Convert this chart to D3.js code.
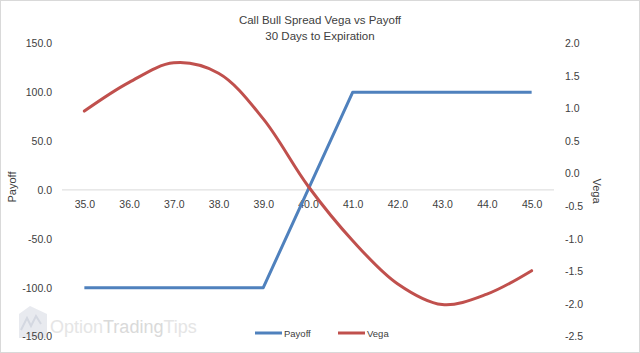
<!DOCTYPE html>
<html><head><meta charset="utf-8">
<script src="https://cdn.jsdelivr.net/npm/d3@7"></script>
<style>
html,body{margin:0;padding:0;background:#fff;}
svg{display:block;font-family:"Liberation Sans",Arial,sans-serif;}
</style></head>
<body><svg id="c" width="640" height="353"></svg>
<script>
const strikes = [35,36,37,38,39,40,41,42,43,44,45];
const payoff = [-100,-100,-100,-100,-100,0,100,100,100,100,100];
const vega = [0.96,1.40,1.70,1.54,0.84,-0.19,-1.03,-1.69,-2.01,-1.85,-1.49];
const leftTicks = [150,100,50,0,-50,-100,-150];
const rightTicks = [2.0,1.5,1.0,0.5,0.0,-0.5,-1.0,-1.5,-2.0,-2.5];
const titleLines = ["Call Bull Spread Vega vs Payoff","30 Days to Expiration"];

const fmt = d => d.toFixed(1);

const svg = d3.select("#c");
const W=640,H=353;
svg.append("rect").attr("x",0.5).attr("y",0.5).attr("width",W-1).attr("height",H-1)
  .attr("fill","#fff").attr("stroke","#d9d9d9");

const x = d3.scalePoint().domain(strikes).range([62,554]).padding(0.5);
const yL = d3.scaleLinear().domain([-150,150]).range([336.5,43.3]);
const yR = d3.scaleLinear().domain([-2.5,2.0]).range([336.5,43.3]);

// watermark
const wm = svg.append("g").attr("opacity",0.9);
wm.append("path").attr("d","M19,338 L19,314 L30,306 L47,314 L47,338 Z").attr("fill","#e6e8ee");
wm.append("path").attr("d","M21,330 L27,318 L31,326 L36,316 L41,324").attr("fill","none").attr("stroke","#d0d4de").attr("stroke-width",2);
const wt = wm.append("text").attr("x",50).attr("y",333).attr("font-size",18).attr("font-family","'Liberation Sans',Arial,sans-serif");
wt.append("tspan").attr("fill","#e3e3e3").text("Option");
wt.append("tspan").attr("fill","#d6d6d6").text("Trading");
wt.append("tspan").attr("fill","#e3e3e3").text("Tips");

// zero line
svg.append("line").attr("x1",62).attr("x2",554).attr("y1",yL(0)).attr("y2",yL(0))
  .attr("stroke","#d9d9d9").attr("stroke-width",1);

// title
svg.append("g").selectAll("text").data(titleLines).join("text")
  .attr("x",320).attr("y",(d,i)=>24+i*16).attr("text-anchor","middle")
  .attr("font-size",11.5).attr("fill","#404040").text(d=>d);

const tickColor="#404040";
// left axis
const la = svg.append("g").attr("transform","translate(52,0)")
  .call(d3.axisLeft(yL).tickValues(leftTicks).tickFormat(fmt).tickSize(0).tickPadding(0));
la.select(".domain").remove();
la.selectAll("text").attr("font-size",10.5).attr("fill",tickColor).attr("font-family","'Liberation Sans',Arial,sans-serif");
// right axis
const ra = svg.append("g").attr("transform","translate(565,0)")
  .call(d3.axisRight(yR).tickValues(rightTicks).tickFormat(fmt).tickSize(0).tickPadding(0));
ra.select(".domain").remove();
ra.selectAll("text").attr("font-size",10.5).attr("fill",tickColor).attr("font-family","'Liberation Sans',Arial,sans-serif");
// x axis labels
const xa = svg.append("g").attr("transform",`translate(0,${yL(0)+11})`)
  .call(d3.axisBottom(x).tickFormat(fmt).tickSize(0).tickPadding(0));
xa.select(".domain").remove();
xa.selectAll("text").attr("font-size",10.5).attr("fill",tickColor).attr("font-family","'Liberation Sans',Arial,sans-serif");

// axis titles
svg.append("text").attr("transform","translate(16,187) rotate(-90)").attr("text-anchor","middle")
  .attr("font-size",11).attr("fill",tickColor).text("Payoff");
svg.append("text").attr("transform","translate(593,191) rotate(90)").attr("text-anchor","middle")
  .attr("font-size",11).attr("fill",tickColor).text("Vega");

// lines
const payLine = d3.line().x((d,i)=>x(strikes[i])).y(d=>yL(d));
svg.append("path").datum(payoff).attr("d",payLine).attr("fill","none")
  .attr("stroke","#4f81bd").attr("stroke-width",3).attr("stroke-linejoin","round");
const vegaLine = d3.line().x((d,i)=>x(strikes[i])).y(d=>yR(d)).curve(d3.curveCatmullRom.alpha(0.5));
svg.append("path").datum(vega).attr("d",vegaLine).attr("fill","none")
  .attr("stroke","#c0504d").attr("stroke-width",3).attr("stroke-linecap","round");

// legend
const legend = [{name:"Payoff",color:"#4f81bd",x:255},{name:"Vega",color:"#c0504d",x:338}];
const lg = svg.append("g").selectAll("g").data(legend).join("g").attr("transform",d=>`translate(${d.x},333)`);
lg.append("line").attr("x1",0).attr("x2",27).attr("stroke",d=>d.color).attr("stroke-width",3);
lg.append("text").attr("x",29).attr("y",3.5).attr("font-size",9.5).attr("fill",tickColor).text(d=>d.name);
</script></body></html>
